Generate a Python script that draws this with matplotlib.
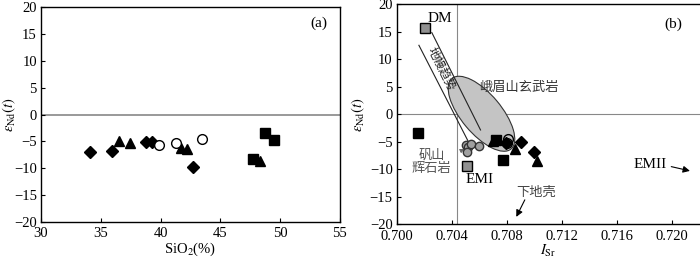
# epsilon Nd vs SiO2 and vs initial Sr, two panels

import numpy as np
import matplotlib
matplotlib.use('Agg')
import matplotlib.pyplot as plt
from matplotlib.patches import Ellipse
from matplotlib.transforms import IdentityTransform

plt.rcParams['font.family'] = ['Liberation Serif', 'Noto Sans CJK SC']
plt.rcParams['mathtext.fontset'] = 'stix'
plt.rcParams['axes.unicode_minus'] = True
cjk = ['Noto Sans CJK SC', 'DejaVu Sans']

# panel (a): SiO2 (%) vs eNd(t)
a_dia_x = [34.1, 35.9, 38.75, 39.25, 42.68]
a_dia_y = [-7.0, -6.8, -5.06, -5.06, -9.8]
a_tri_x = [36.5, 37.45, 41.7, 42.2, 48.3]
a_tri_y = [-4.9, -5.3, -6.2, -6.4, -8.6]
a_cir_x = [39.85, 41.26, 43.43]
a_cir_y = [-5.6, -5.4, -4.5]
a_sq_x = [47.75, 48.73, 49.5]
a_sq_y = [-8.3, -3.4, -4.7]

# panel (b): ISr vs eNd(t)
b_sq_x = [0.7015, 0.7072, 0.7077]
b_sq_y = [-3.45, -4.7, -8.24]
b_tri_x = [0.7070, 0.7086, 0.7102]
b_tri_y = [-4.9, -6.36, -8.5]
b_dia_x = [0.7079, 0.7090, 0.7100]
b_dia_y = [-5.15, -5.0, -6.85]
b_cir_x = [0.7081, 0.7080]
b_cir_y = [-4.4, -5.2]
fan_x = [0.70505, 0.70515, 0.70512, 0.70540, 0.70595]   # 矾山辉石岩
fan_y = [-5.5, -6.0, -6.8, -5.4, -5.7]
dm = (0.70201, 15.76)
emi = (0.70509, -9.4)
bulk_sr = 0.7044

# mantle array band (two lines)
band1_x = [0.70254, 0.70608]
band1_y = [14.85, -2.85]
band2_x = [0.70160, 0.70517]
band2_y = [12.55, -4.85]

fig = plt.figure(figsize=(7, 2.58), dpi=100)
axa = fig.add_axes([0.0586, 0.1407, 0.427, 0.831])
axb = fig.add_axes([0.567, 0.1306, 0.4323, 0.8527])

ms = 7
axa.axhline(0, color='#999999', lw=1.4, zorder=1)
axa.plot(a_dia_x, a_dia_y, 'D', color='k', ms=6, lw=0)
axa.plot(a_tri_x, a_tri_y, '^', color='k', ms=ms, lw=0)
axa.plot(a_cir_x, a_cir_y, 'o', mfc='white', mec='k', ms=ms, lw=0)
axa.plot(a_sq_x, a_sq_y, 's', color='k', ms=ms, lw=0)
axa.set_xlim(30, 55)
axa.set_ylim(-20, 20)
axa.set_xticks([30, 35, 40, 45, 50, 55])
axa.set_yticks(np.arange(-20, 21, 5))
axa.set_xlabel('SiO$_2$(%)', fontsize=10.5, labelpad=0)
axa.set_ylabel(r'$\varepsilon_{\rm Nd}(t)$', fontsize=10.5)
axa.yaxis.set_label_coords(-0.078, 0.5)
axa.text(53.2, 17, '(a)', fontsize=11, ha='center', va='center')

axb.set_xlim(0.700, 0.722)
axb.set_ylim(-20, 20)
axb.axhline(0, color='#888888', lw=0.8, zorder=1)
axb.axvline(bulk_sr, color='#888888', lw=0.8, zorder=1)

# Emeishan basalt field, drawn in pixels around its centre
fig.canvas.draw()
cen = axb.transData.transform((0.70615, 0.1))
ell = Ellipse(cen, 92, 40, angle=-50, transform=IdentityTransform(),
              fc='#c4c4c4', ec='#333333', lw=0.8, zorder=2)
axb.add_artist(ell)

axb.plot(band1_x, band1_y, color='#222222', lw=0.8, zorder=3)
axb.plot(band2_x, band2_y, color='#222222', lw=0.8, zorder=3)
axb.text(0.70325, 8.3, '地幔趋势', family=cjk, fontsize=8.5, rotation=-63.3,
         ha='center', va='center', color='#222222', zorder=3)

axb.plot(fan_x, fan_y, 'o', mfc='#a0a0a0', mec='#333333', ms=6, lw=0, zorder=4)
axb.plot(b_cir_x, b_cir_y, 'o', mfc='none', mec='k', ms=ms, lw=0, zorder=4)
axb.plot(b_sq_x, b_sq_y, 's', color='k', ms=ms, lw=0, zorder=5)
axb.plot(b_tri_x, b_tri_y, '^', color='k', ms=ms, lw=0, zorder=5)
axb.plot(b_dia_x, b_dia_y, 'D', color='k', ms=6, lw=0, zorder=5)
axb.plot(*dm, 's', mfc='#909090', mec='k', ms=6.5, zorder=5)
axb.plot(*emi, 's', mfc='#909090', mec='k', ms=6.5, zorder=5)

axb.text(0.70312, 17.45, 'DM', fontsize=11, ha='center', va='center')
axb.text(0.70601, -11.8, 'EMI', fontsize=11, ha='center', va='center')
axb.text(0.71842, -9.1, 'EMII', fontsize=11, ha='center', va='center')
axb.annotate('', xy=(0.72150, -10.4), xytext=(0.71975, -9.4),
             arrowprops=dict(arrowstyle='-|>', color='k', lw=0.8, mutation_scale=10))
axb.text(0.70890, 4.85, '峨眉山玄武岩', family=cjk, fontsize=9.5,
         ha='center', va='center', color='#333333')
axb.text(0.71011, -14.1, '下地壳', family=cjk, fontsize=9.5,
         ha='center', va='center', color='#444444')
axb.annotate('', xy=(0.70859, -19.1), xytext=(0.70939, -15.1),
             arrowprops=dict(arrowstyle='-|>', color='k', lw=0.8, mutation_scale=10))
axb.text(0.70253, -8.7, '矾山\n辉石岩', family=cjk, fontsize=9.5, linespacing=1.05,
         ha='center', va='center', color='#555555')
axb.annotate('', xy=(0.70509, -6.1), xytext=(0.70451, -6.8),
             arrowprops=dict(arrowstyle='-|>', color='#666666', lw=0.7, mutation_scale=6))
axb.text(0.72011, 16.4, '(b)', fontsize=11, ha='center', va='center')

axb.set_xticks([0.700, 0.704, 0.708, 0.712, 0.716, 0.720])
axb.set_xticklabels(['0.700', '0.704', '0.708', '0.712', '0.716', '0.720'])
axb.set_yticks(np.arange(-20, 21, 5))
axb.set_xlabel(r'$I_{\rm Sr}$', fontsize=10.5, labelpad=0)
axb.set_ylabel(r'$\varepsilon_{\rm Nd}(t)$', fontsize=10.5)
axb.yaxis.set_label_coords(-0.1, 0.5)
axb.spines['right'].set_visible(False)

for ax in (axa, axb):
    ax.tick_params(direction='in', length=3, width=0.8, labelsize=10.5, pad=3)
    ax.tick_params(axis='x', pad=4)
    for s in ax.spines.values():
        s.set_linewidth(1.0)

fig.savefig('out.png', dpi=100)
